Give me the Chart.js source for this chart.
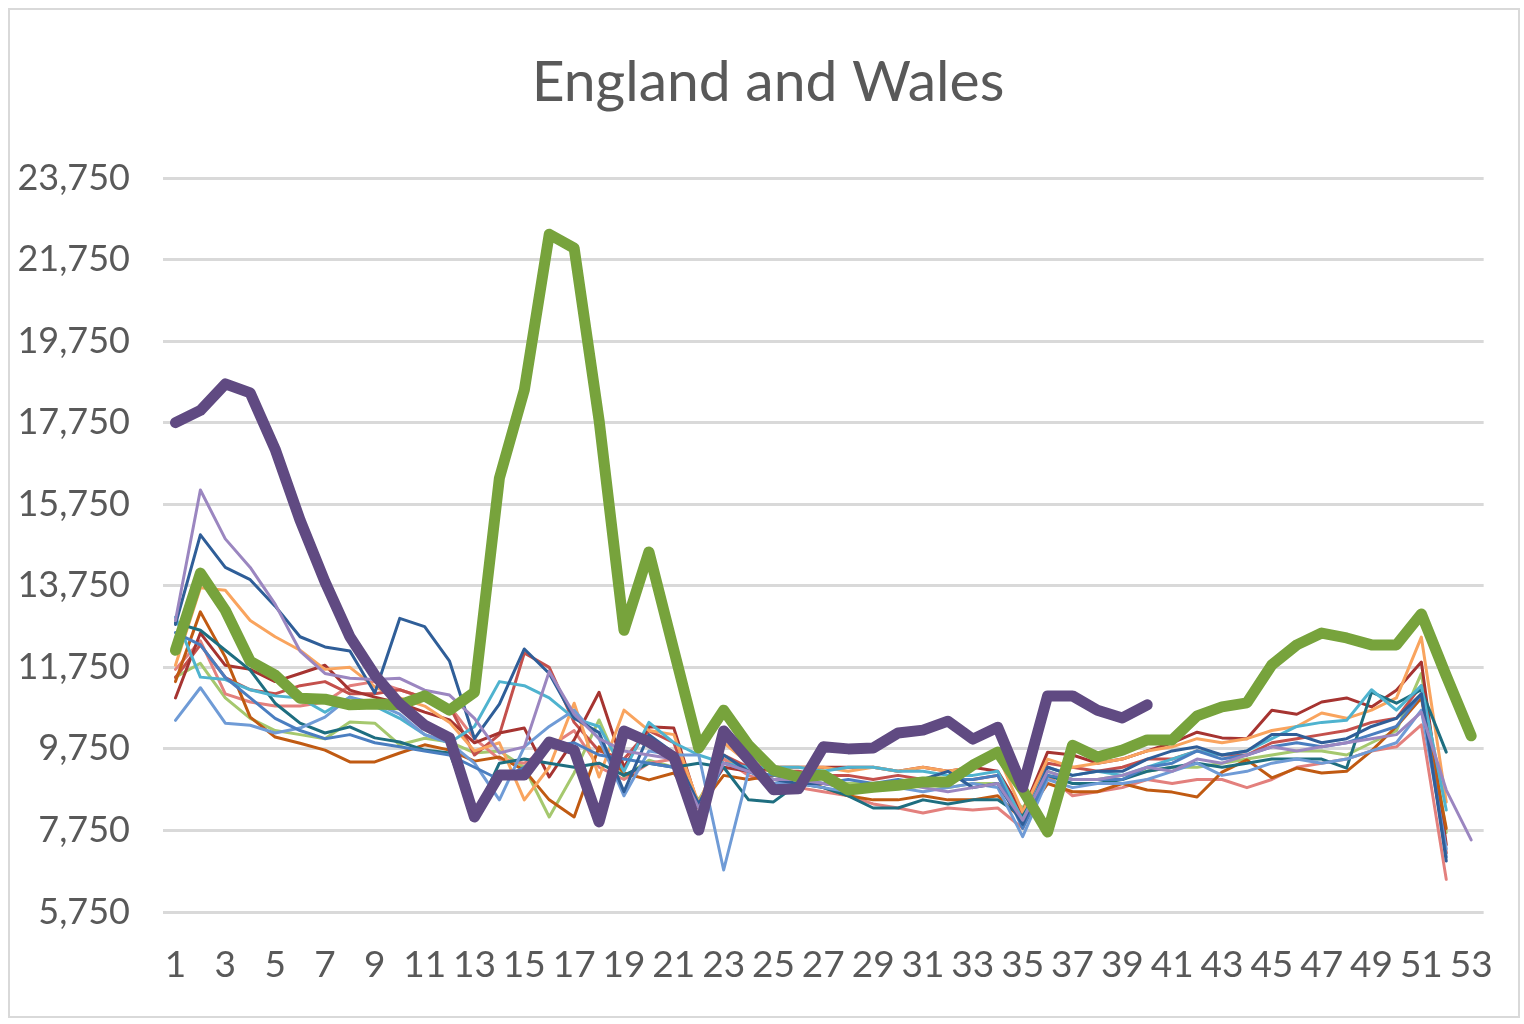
<!DOCTYPE html>
<html>
<head>
<meta charset="utf-8">
<script src="https://cdn.jsdelivr.net/npm/chart.js@4/dist/chart.umd.min.js"></script>
<style>
  html, body { margin: 0; padding: 0; background: #ffffff; }
  #frame { position: absolute; left: 8px; top: 8px; width: 1512px; height: 1010px; border: 2px solid #D9D9D9; box-sizing: border-box; }
  #wrap { position: absolute; left: 0; top: 0; width: 1524px; height: 1024px; }
</style>
</head>
<body>
<div id="frame"></div>
<div id="wrap"><canvas id="c" width="1524" height="1024"></canvas></div>
<script>
// Chart title
const titleText = 'England and Wales';

// Week numbers (categories)
const weeks = Array.from({length: 53}, (_, i) => String(i + 1));

// Y-axis tick values
const yTicks = [5750, 7750, 9750, 11750, 13750, 15750, 17750, 19750, 21750, 23750];

// Thick series
const y2021 = [17750,18050,18700,18480,17100,15360,13850,12500,11560,10850,10330,10020,8080,9110,9110,9920,9720,7960,10190,9920,9550,7760,10190,9480,8750,8770,9800,9750,9770,10140,10210,10430,9990,10280,8810,11050,11050,10700,10510,10830];
const y2020 = [12170,14060,13150,11900,11560,10990,10970,10830,10850,10830,11050,10700,11140,16390,18550,22370,22030,17810,12660,14580,12170,9770,10700,9840,9230,9060,9110,8740,8810,8860,8940,8940,9350,9670,8750,7710,9840,9550,9720,9970,9970,10560,10780,10880,11810,12300,12590,12470,12300,12300,13060,11540,10070];

// Thin series (earlier years)
const sLightPurple = [12900,16100,14900,14200,13300,12150,11600,11480,11450,11480,11190,11070,10500,9650,9800,11650,10600,10000,9700,9600,9500,8300,9400,9200,9000,9000,8900,8800,8800,8900,8800,8700,8800,8900,8000,9200,9000,9000,9100,9300,9200,9500,9400,9600,9800,9700,9800,9900,10000,10100,10650,8740,7520];
const sDarkBlue = [12800,15000,14200,13900,13250,12500,12250,12150,11120,12950,12750,11900,10000,10850,12200,11600,10500,10150,8700,10100,9650,8400,9600,9200,9000,8900,8900,8800,8900,8900,9000,9200,8800,8900,7900,9300,9100,9200,9200,9500,9700,9800,9600,9700,10100,10100,9900,10000,10300,10500,11100,7000];
const sBlue = [12600,12300,11500,11000,10500,10200,10000,10100,9900,9800,9700,9600,9300,9000,9300,9800,9900,9600,9500,9400,9300,8000,9400,9200,9100,9000,8900,9000,8900,9000,8900,9000,9000,9100,7800,9100,9000,9000,9000,9300,9400,9700,9500,9600,9800,9900,9800,9900,10100,10300,11100,7100];
const sLightBlue = [10450,11250,10380,10330,10140,10260,10530,11020,10870,10600,10100,9900,9400,8500,9800,10300,10700,10000,8600,9700,9600,9600,6780,9200,8900,8900,8800,8700,8800,8800,8700,8800,8900,8800,7600,9000,8800,8900,8900,9000,9200,9400,9100,9200,9400,9500,9400,9500,9700,9900,10700,7300];
const sAqua = [12980,11510,11450,11200,11050,11000,10650,11020,10800,10500,10100,9900,10300,11400,11300,11000,10500,10300,9200,10400,9900,9600,9400,9300,9300,9300,9200,9300,9300,9200,9200,9100,9100,9200,8000,9300,9100,9200,9100,9300,9500,9700,9600,9700,10000,10300,10400,10450,11200,10700,11300,8250];
const sTeal = [12840,12660,12170,11680,10870,10380,10140,10290,10020,9920,9720,9650,8100,9400,9500,9400,9300,9400,9100,9400,9300,9400,9300,8500,8450,8900,8800,8600,8300,8300,8500,8400,8500,8500,8100,9100,8900,8900,9000,9200,9300,9400,9300,9400,9500,9500,9500,9280,11140,10870,11200,9670];
const sLightOrange = [11800,13700,13640,12900,12500,12170,11700,11750,11270,11000,10800,10400,9700,9900,8500,9300,10870,9060,10700,10200,10100,8400,9900,9400,9300,9300,9300,9200,9300,9200,9300,9200,9300,9600,8200,9500,9300,9400,9500,9700,9800,10000,9900,10000,10200,10300,10630,10500,10700,11000,12490,8450];
const sDarkOrange = [11400,13110,12000,10530,10040,9890,9720,9430,9430,9650,9850,9720,9450,9550,9230,8500,8080,9800,9160,8990,9160,8300,9100,9000,9100,9000,8800,8600,8500,8500,8600,8500,8500,8600,8000,8900,8700,8700,8900,8740,8690,8570,9180,9480,9040,9280,9160,9200,9700,10300,11000,7800];
const sDarkRed = [11000,12590,11800,11700,11400,11600,11800,11190,11020,10870,10650,10460,9900,10140,10260,9060,9970,11140,9300,10290,10260,8330,9300,9200,9300,9300,9300,9300,9300,9200,9300,9200,9300,9200,8200,9670,9600,9400,9500,9700,9900,10160,10020,10000,10700,10600,10900,11000,10780,11190,11880,7400];
const sRed = [11500,12300,11500,11200,11100,11300,11400,11100,11100,11200,11000,10800,9600,10100,12100,11750,10400,9700,9500,10200,9900,8300,9600,9300,9200,9200,9100,9100,9000,9100,9000,9000,9000,9100,8100,9400,9300,9200,9300,9500,9500,9700,9600,9600,9900,10000,10100,10200,10400,10500,11300,7200];
const sPink = [11700,12400,11100,10900,10800,10800,10900,11300,11400,11200,11000,10800,10000,9500,9400,9800,10200,9300,9000,9400,9500,8400,9500,9100,8900,8800,8700,8600,8400,8300,8180,8300,8250,8300,7800,9100,8600,8700,8800,9000,8900,9000,9000,8800,9000,9300,9400,9500,9700,9800,10340,6550];
const sLightGreen = [11510,11850,11000,10500,10200,10100,10000,10410,10380,9850,10010,9920,9650,9700,9300,8080,9160,10460,9060,9470,9300,8500,9500,9200,9000,9000,8900,8900,8900,8900,8900,8800,8900,8900,8300,9200,9000,9000,9100,9200,9300,9300,9400,9500,9600,9700,9700,9600,9900,10200,11600,7700];

const thin = [
  [sLightPurple, '#9B86C0'],
  [sDarkBlue,    '#2F5E98'],
  [sBlue,        '#4A7EC0'],
  [sLightBlue,   '#6F9BD6'],
  [sAqua,        '#4FB3CF'],
  [sTeal,        '#1E6E80'],
  [sLightOrange, '#F9A45E'],
  [sDarkOrange,  '#C05A12'],
  [sDarkRed,     '#A63431'],
  [sRed,         '#C4504C'],
  [sPink,        '#E3807D'],
  [sLightGreen,  '#A5C86E']
];

const datasets = [
  { label: '2021', data: y2021, borderColor: '#604A82', borderWidth: 11, order: 0 },
  { label: '2020', data: y2020, borderColor: '#77A33C', borderWidth: 11, order: 1 }
];
thin.forEach(([d, c], i) => datasets.push({ label: 's' + i, data: d, borderColor: c, borderWidth: 3, order: 2 + i }));
datasets.forEach(d => {
  d.pointRadius = 0; d.pointHoverRadius = 0; d.tension = 0; d.fill = false;
  d.borderCapStyle = 'round'; d.borderJoinStyle = 'round'; d.spanGaps = false;
});

const FONT = 'Lato';

const titlePlugin = {
  id: 'customTitle',
  afterDraw(chart) {
    const ctx = chart.ctx;
    ctx.save();
    ctx.font = 'normal 57px ' + FONT;
    ctx.fillStyle = '#595959';
    ctx.textAlign = 'center';
    ctx.textBaseline = 'alphabetic';
    ctx.fillText(titleText, 768, 101);
    ctx.restore();
  }
};

new Chart(document.getElementById('c'), {
  type: 'line',
  data: { labels: weeks, datasets },
  plugins: [titlePlugin],
  options: {
    responsive: false,
    animation: false,
    devicePixelRatio: 1,
    layout: { padding: { left: 10, right: 37, top: 178, bottom: 0 } },
    plugins: {
      legend: { display: false },
      tooltip: { enabled: false },
      title: { display: false }
    },
    scales: {
      x: {
        type: 'category',
        offset: true,
        grid: { display: false, drawTicks: false },
        border: { display: false },
        ticks: {
          autoSkip: false, maxRotation: 0, minRotation: 0,
          color: '#595959', padding: 31,
          font: { family: FONT, size: 37 },
          callback: function (v, i) { return i % 2 === 0 ? weeks[i] : ''; }
        },
        afterFit: s => { s.height = 112; }
      },
      y: {
        type: 'linear',
        min: yTicks[0], max: yTicks[yTicks.length - 1],
        afterBuildTicks: s => { s.ticks = yTicks.map(v => ({ value: v })); },
        grid: { color: '#D9D9D9', lineWidth: 3, drawTicks: false },
        border: { display: false },
        ticks: {
          color: '#595959', padding: 33,
          font: { family: FONT, size: 36 },
          callback: v => v.toLocaleString('en-US')
        },
        afterFit: s => { s.width = 153; }
      }
    }
  }
});
</script>
</body>
</html>
